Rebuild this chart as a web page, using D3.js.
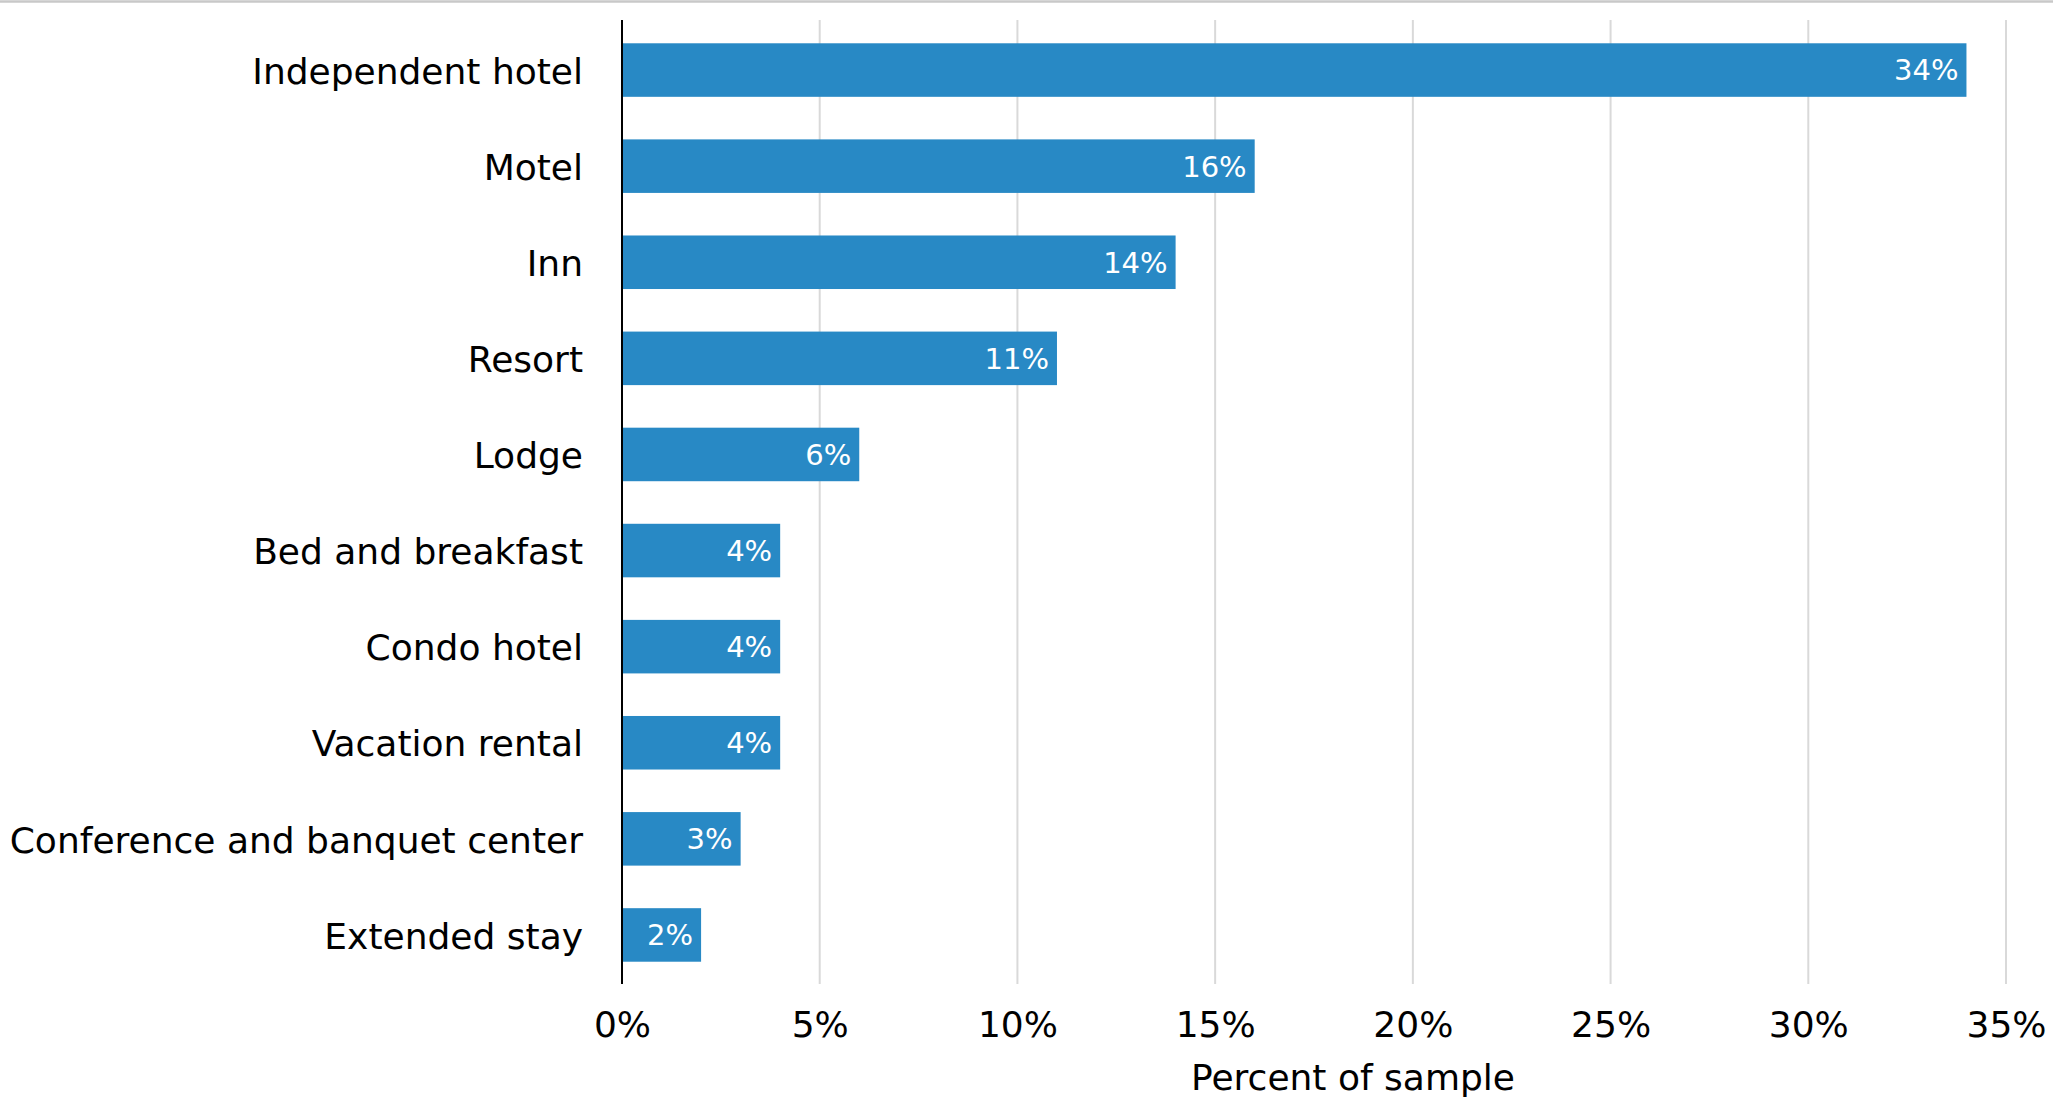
<!DOCTYPE html>
<html>
<head>
<meta charset="utf-8">
<script src="https://cdn.jsdelivr.net/npm/d3@7"></script>
<style>
  body { margin: 0; background: #fff; }
  svg { display: block; font-family: 'DejaVu Sans', Verdana, sans-serif; }
</style>
</head>
<body>
<main></main>
<script>
// data
var categories = ['Independent hotel', 'Motel', 'Inn', 'Resort', 'Lodge',
    'Bed and breakfast', 'Condo hotel', 'Vacation rental',
    'Conference and banquet center', 'Extended stay']
var shares = [34, 16, 14, 11, 6, 4, 4, 4, 3, 2]
var xTicks = [0, 5, 10, 15, 20, 25, 30, 35]
var xTitle = 'Percent of sample'

var width = 2053,
    height = 1099

var data = categories.map((c, i) => ({ name: c, value: shares[i] }))

var svg = d3.select('main').append('svg')
    .attr('width', width)
    .attr('height', height)

// thin grey rule across the top
svg.append('line')
    .attr('x1', 0).attr('x2', width)
    .attr('y1', 1.5).attr('y2', 1.5)
    .attr('stroke', '#c8c8c8')
    .attr('stroke-width', 2.5)

// scales
var x = d3.scaleLinear().domain([0, 35]).range([622, 2006])
var y = d3.scaleBand()
    .domain(categories)
    .range([22, 983])
    .paddingInner(0.443)
    .paddingOuter(0.2215)

var gridTop = 20, gridBottom = 984

// gridlines
svg.append('g')
    .selectAll('line')
    .data(xTicks.filter(d => d > 0))
    .enter()
    .append('line')
    .attr('x1', d => x(d)).attr('x2', d => x(d))
    .attr('y1', gridTop).attr('y2', gridBottom)
    .attr('stroke', '#d9d9d9')
    .attr('stroke-width', 2)

// bars
svg.append('g')
    .selectAll('rect')
    .data(data)
    .enter()
    .append('rect')
    .attr('x', x(0))
    .attr('y', d => y(d.name))
    .attr('width', d => x(d.value) - x(0))
    .attr('height', y.bandwidth())
    .attr('fill', '#2889c5')

// value labels inside bars
svg.append('g')
    .selectAll('text')
    .data(data)
    .enter()
    .append('text')
    .attr('x', d => x(d.value) - 8)
    .attr('y', d => y(d.name) + y.bandwidth() / 2)
    .attr('dy', '0.36em')
    .attr('text-anchor', 'end')
    .attr('fill', '#fff')
    .attr('font-size', '29px')
    .text(d => `${d.value}%`)

// y axis: labels + vertical line
var yAxis = svg.append('g')
    .attr('transform', `translate(${x(0)}, 0)`)
    .call(d3.axisLeft(y).tickSize(0).tickPadding(39))
yAxis.select('.domain').remove()
yAxis.selectAll('text')
    .attr('font-size', '36px')
    .attr('font-family', "'DejaVu Sans', Verdana, sans-serif")
    .attr('fill', '#000')
    .attr('dy', '0.38em')

svg.append('line')
    .attr('x1', x(0)).attr('x2', x(0))
    .attr('y1', gridTop).attr('y2', gridBottom)
    .attr('stroke', '#000')
    .attr('stroke-width', 2)

// x axis tick labels
var xAxis = svg.append('g')
    .attr('transform', `translate(0, ${gridBottom})`)
    .call(d3.axisBottom(x).tickValues(xTicks).tickSize(0).tickPadding(27)
        .tickFormat(d => d + '%'))
xAxis.select('.domain').remove()
xAxis.selectAll('text')
    .attr('font-size', '36px')
    .attr('font-family', "'DejaVu Sans', Verdana, sans-serif")
    .attr('fill', '#000')

// x label
svg.append('text')
    .attr('x', 1353)
    .attr('y', 1090)
    .attr('text-anchor', 'middle')
    .attr('font-size', '36px')
    .attr('fill', '#000')
    .text(xTitle)
</script>
</body>
</html>
